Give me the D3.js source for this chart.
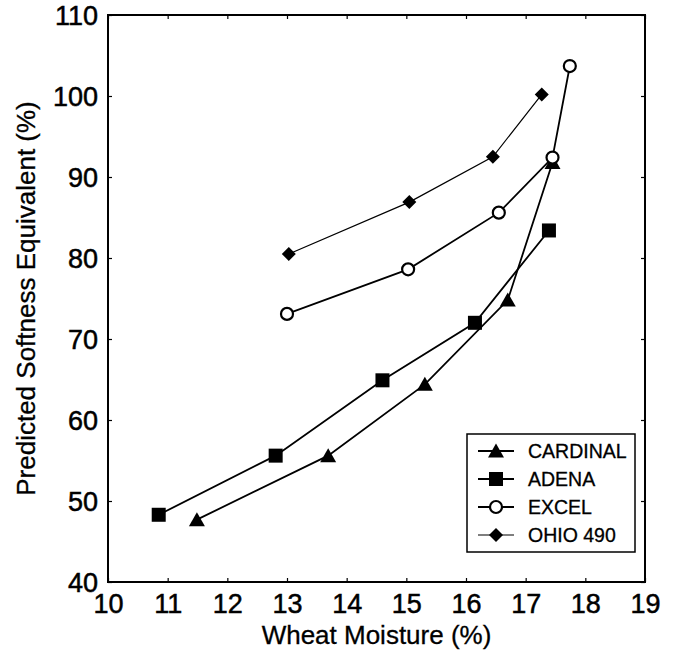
<!DOCTYPE html>
<html><head><meta charset="utf-8">
<script src="https://cdn.jsdelivr.net/npm/d3@7"></script>
<style>body{margin:0;background:#fff}svg{display:block}</style>
</head><body>
<svg id="c" width="675" height="655"></svg>
<script>
const seriesNames = ["CARDINAL", "ADENA", "EXCEL", "OHIO 490"];
const cardinalX = [11.49, 13.69, 15.31, 16.70, 17.45];
const cardinalY = [47.7, 55.6, 64.4, 74.8, 91.8];
const adenaX = [10.85, 12.81, 14.60, 16.15, 17.39];
const adenaY = [48.3, 55.6, 64.9, 72.0, 83.4];
const excelX = [13.0, 15.03, 16.55, 17.45, 17.74];
const excelY = [73.1, 78.6, 85.6, 92.4, 103.7];
const ohioX = [13.03, 15.05, 16.45, 17.27];
const ohioY = [80.5, 86.9, 92.5, 100.2];
const xTicks = [10, 11, 12, 13, 14, 15, 16, 17, 18, 19];
const yTicks = [40, 50, 60, 70, 80, 90, 100, 110];
const xTitle = "Wheat Moisture (%)";
const yTitle = "Predicted Softness Equivalent (%)";

const svg = d3.select("#c");
const L = 108, R = 645, T = 15, B = 582;
const x = d3.scaleLinear().domain([10, 19]).range([L, R]);
const y = d3.scaleLinear().domain([40, 110]).range([B, T]);
const font = "'Liberation Sans', Arial, Helvetica, sans-serif";

const series = [
  {name: seriesNames[0], xs: cardinalX, ys: cardinalY, sym: "tri", w: 1.8},
  {name: seriesNames[1], xs: adenaX, ys: adenaY, sym: "sq", w: 1.8},
  {name: seriesNames[2], xs: excelX, ys: excelY, sym: "circ", w: 1.8},
  {name: seriesNames[3], xs: ohioX, ys: ohioY, sym: "dia", w: 1.2}
];

function drawMarker(g, sym, cx, cy) {
  if (sym === "tri") {
    g.append("path").attr("d", `M${cx},${cy-7.5}L${cx+8},${cy+6.5}L${cx-8},${cy+6.5}Z`).attr("fill", "#000");
  } else if (sym === "sq") {
    g.append("rect").attr("x", cx-7).attr("y", cy-7).attr("width", 14).attr("height", 14).attr("fill", "#000");
  } else if (sym === "circ") {
    g.append("circle").attr("cx", cx).attr("cy", cy).attr("r", 6).attr("fill", "#fff").attr("stroke", "#000").attr("stroke-width", 2.2);
  } else {
    g.append("path").attr("d", `M${cx},${cy-7}L${cx+7},${cy}L${cx},${cy+7}L${cx-7},${cy}Z`).attr("fill", "#000");
  }
}

// axes
const xAxB = svg.append("g").attr("transform", `translate(0,${B})`)
  .call(d3.axisBottom(x).tickValues(xTicks).tickSize(-4).tickPadding(12).tickFormat(d3.format("d")));
const xAxT = svg.append("g").attr("transform", `translate(0,${T})`)
  .call(d3.axisTop(x).tickValues(xTicks).tickSize(-4).tickFormat(""));
const yAxL = svg.append("g").attr("transform", `translate(${L},0)`)
  .call(d3.axisLeft(y).tickValues(yTicks).tickSize(-4).tickPadding(10).tickFormat(d3.format("d")));
const yAxR = svg.append("g").attr("transform", `translate(${R},0)`)
  .call(d3.axisRight(y).tickValues(yTicks).tickSize(-4).tickFormat(""));
[xAxB, xAxT, yAxL, yAxR].forEach(a => {
  a.select(".domain").remove();
  a.selectAll(".tick line").attr("stroke", "#000").attr("stroke-width", 1.2);
  a.selectAll("text").attr("font-family", font).attr("font-size", 27).attr("fill", "#000")
    .attr("stroke", "#000").attr("stroke-width", 0.5);
});
yAxL.selectAll("text").attr("dy", "0.36em");

svg.append("rect").attr("x", L).attr("y", T).attr("width", R-L).attr("height", B-T)
  .attr("fill", "none").attr("stroke", "#000").attr("stroke-width", 2);

// titles
svg.append("text").attr("x", (L+R)/2).attr("y", 644).attr("text-anchor", "middle")
  .attr("font-family", font).attr("font-size", 26).attr("stroke", "#000").attr("stroke-width", 0.3).text(xTitle);
svg.append("text").attr("transform", `translate(35,${(T+B)/2}) rotate(-90)`).attr("text-anchor", "middle")
  .attr("font-family", font).attr("font-size", 26).attr("stroke", "#000").attr("stroke-width", 0.3).text(yTitle);

// series
const line = d3.line().x(d => x(d[0])).y(d => y(d[1]));
series.forEach(s => {
  const pts = s.xs.map((v, i) => [v, s.ys[i]]);
  svg.append("path").datum(pts).attr("d", line).attr("fill", "none").attr("stroke", "#000").attr("stroke-width", s.w);
});
series.forEach(s => {
  const g = svg.append("g");
  s.xs.forEach((v, i) => drawMarker(g, s.sym, x(v), y(s.ys[i])));
});

// legend
const lg = svg.append("g");
lg.append("rect").attr("x", 467).attr("y", 434).attr("width", 168).attr("height", 118)
  .attr("fill", "#fff").attr("stroke", "#000").attr("stroke-width", 1.5);
const rowY = [451, 479, 507, 535];
series.forEach((s, i) => {
  const cy = rowY[i];
  lg.append("line").attr("x1", 478).attr("x2", 514).attr("y1", cy).attr("y2", cy).attr("stroke", "#000").attr("stroke-width", s.w);
  drawMarker(lg, s.sym, 496, cy);
  lg.append("text").attr("x", 528).attr("y", cy).attr("dy", "0.36em")
    .attr("font-family", font).attr("font-size", 19.5).attr("stroke", "#000").attr("stroke-width", 0.3).text(s.name);
});
</script>
</body></html>
